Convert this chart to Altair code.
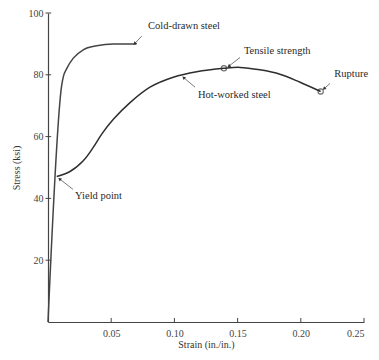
import math
import altair as alt
import pandas as pd

# ---- data ----
cold_strain = [0.0, 0.0108, 0.0122, 0.0148, 0.0200, 0.0279, 0.0385, 0.0516, 0.0700]
cold_stress = [0.0, 76.5, 79.5, 82.0, 85.4, 88.1, 89.4, 90.0, 90.0]

hot_strain = [0.0069, 0.0174, 0.0279, 0.0358, 0.0425, 0.0517, 0.0649, 0.0807, 0.0991,
              0.1176, 0.1392, 0.1519, 0.1677, 0.1835, 0.1994, 0.2157]
hot_stress = [47.1, 48.7, 52.2, 56.5, 60.8, 65.6, 71.0, 76.0, 79.2,
              81.0, 82.1, 82.4, 81.6, 80.2, 77.6, 74.6]

marker_strain = [0.1392, 0.2157]
marker_stress = [82.1, 74.6]

label_text = ["Cold-drawn steel", "Tensile strength", "Rupture", "Hot-worked steel", "Yield point"]
label_strain = [0.0791, 0.1550, 0.2265, 0.1187, 0.0214]
label_stress = [95.8, 87.8, 80.4, 73.4, 40.7]

arrow_tail_strain = [0.0741, 0.1519, 0.2231, 0.1163, 0.0198]
arrow_tail_stress = [92.5, 85.6, 77.2, 76.0, 42.9]
arrow_tip_strain = [0.0688, 0.1434, 0.2187, 0.1076, 0.0095]
arrow_tip_stress = [90.2, 82.9, 75.6, 79.0, 46.2]

x_ticks = [0.05, 0.10, 0.15, 0.20, 0.25]
y_ticks = [20, 40, 60, 80, 100]

W, H = 316, 309
XMAX, YMAX = 0.25, 100

ink = "#2e2e2e"
serif = "Liberation Serif"

cold = pd.DataFrame({"strain": cold_strain, "stress": cold_stress})
hot = pd.DataFrame({"strain": hot_strain, "stress": hot_stress})
markers = pd.DataFrame({"strain": marker_strain, "stress": marker_stress})
labels = pd.DataFrame({"text": label_text, "strain": label_strain, "stress": label_stress})

angles = []
for xs0, ys0, xe, ye in zip(arrow_tail_strain, arrow_tail_stress, arrow_tip_strain, arrow_tip_stress):
    dx = (xe - xs0) * W / XMAX
    dy = -(ye - ys0) * H / YMAX
    angles.append(math.degrees(math.atan2(dx, -dy)) % 360)
arrows = pd.DataFrame({"x": arrow_tail_strain, "y": arrow_tail_stress,
                       "x2": arrow_tip_strain, "y2": arrow_tip_stress, "angle": angles})

xs = alt.Scale(domain=[0, XMAX], nice=False)
ys = alt.Scale(domain=[0, YMAX], nice=False)

x_enc = alt.X("strain:Q", scale=xs, title="Strain (in./in.)",
              axis=alt.Axis(values=x_ticks, format=".2f", ticks=False, grid=False,
                            labelPadding=6, titlePadding=1))
y_enc = alt.Y("stress:Q", scale=ys, title="Stress (ksi)",
              axis=alt.Axis(values=y_ticks, format="d", ticks=False, grid=False,
                            labelPadding=5, titlePadding=7))

cold_line = alt.Chart(cold).mark_line(color="#444", strokeWidth=1.5, interpolate="monotone").encode(
    x=x_enc, y=y_enc)
hot_line = alt.Chart(hot).mark_line(color=ink, strokeWidth=1.5, interpolate="catmull-rom").encode(
    x="strain:Q", y="stress:Q")
pts = alt.Chart(markers).mark_point(shape="circle", size=28, filled=False, color=ink,
                                    strokeWidth=1.1).encode(x="strain:Q", y="stress:Q")
txt = alt.Chart(labels).mark_text(align="left", baseline="middle", font=serif, fontSize=10.5,
                                  color="#2a2a2a").encode(x="strain:Q", y="stress:Q", text="text:N")
arrow_lines = alt.Chart(arrows).mark_rule(color="#555", strokeWidth=0.8).encode(
    x="x:Q", y="y:Q", x2="x2:Q", y2="y2:Q")
arrow_heads = alt.Chart(arrows).mark_point(shape="triangle", size=14, filled=True, color="#333",
                                           opacity=1).encode(
    x="x2:Q", y="y2:Q", angle=alt.Angle("angle:Q", scale=None))

xt = pd.DataFrame({"v": x_ticks, "lo": [0] * len(x_ticks), "hi": [1.3] * len(x_ticks)})
yt = pd.DataFrame({"v": y_ticks, "lo": [-0.002] * len(y_ticks), "hi": [0.0025] * len(y_ticks)})
x_tick_marks = alt.Chart(xt).mark_rule(color="#444", strokeWidth=1).encode(
    x="v:Q", y="lo:Q", y2="hi:Q")
y_tick_marks = alt.Chart(yt).mark_rule(color="#444", strokeWidth=1).encode(
    y="v:Q", x="lo:Q", x2="hi:Q")

chart = alt.layer(cold_line, hot_line, pts, arrow_lines, arrow_heads, txt,
                  x_tick_marks, y_tick_marks).properties(
    width=W, height=H,
    autosize=alt.AutoSizeParams(type="none"),
    padding={"left": 40, "top": 5, "right": 7, "bottom": 30},
).configure_view(stroke=None).configure_axis(
    domainColor="#444", domainWidth=1.2,
    labelFont=serif, labelFontSize=10, labelColor="#444",
    titleFont=serif, titleFontSize=10, titleFontWeight="normal", titleColor="#333",
)

chart.save("out.html", embed_options={"renderer": "svg", "actions": False})
